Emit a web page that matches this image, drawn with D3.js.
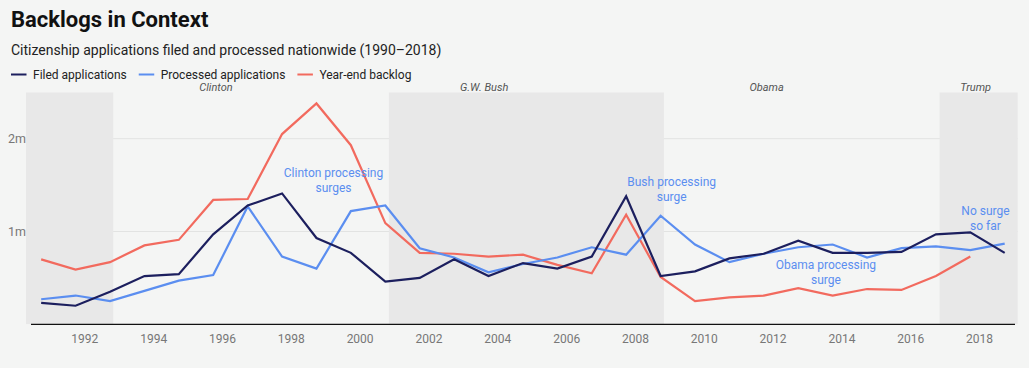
<!DOCTYPE html>
<html>
<head>
<meta charset="utf-8">
<script src="https://cdn.jsdelivr.net/npm/d3@7"></script>
<style>
  html, body { margin: 0; padding: 0; background: #f4f5f4; }
  svg { display: block; font-family: Roboto, "Noto Sans", sans-serif; }
</style>
</head>
<body>
<svg id="chart" width="1029" height="368"></svg>
<script>
// ---- data (fiscal years) ----
const years = [1990,1991,1992,1993,1994,1995,1996,1997,1998,1999,2000,2001,2002,2003,2004,2005,2006,2007,2008,2009,2010,2011,2012,2013,2014,2015,2016,2017,2018];
const filed = [0.23,0.20,0.35,0.52,0.54,0.97,1.28,1.41,0.93,0.77,0.46,0.50,0.70,0.52,0.66,0.60,0.73,1.38,0.52,0.57,0.71,0.76,0.90,0.77,0.77,0.78,0.97,0.99,0.77];
const processed = [0.27,0.31,0.25,0.36,0.47,0.53,1.27,0.73,0.60,1.22,1.28,0.82,0.72,0.56,0.65,0.72,0.83,0.75,1.17,0.86,0.67,0.76,0.83,0.86,0.72,0.82,0.84,0.80,0.87];
const backlog = [0.70,0.59,0.67,0.85,0.91,1.34,1.35,2.05,2.38,1.93,1.09,0.77,0.76,0.73,0.75,0.64,0.55,1.18,0.51,0.25,0.29,0.31,0.39,0.31,0.38,0.37,0.52,0.73];
const seriesNames = ["Filed applications","Processed applications","Year-end backlog"];
const yTicks = [1, 2];
const yTickLabels = ["1m", "2m"];
const xTickYears = [1992,1994,1996,1998,2000,2002,2004,2006,2008,2010,2012,2014,2016,2018];
// presidential terms (shaded = Republican), starting at election day
const terms = [
  {name: "", start: "1988-11-08", end: "1992-11-03", shaded: true, labelAt: null},
  {name: "Clinton", start: "1992-11-03", end: "2000-11-07", shaded: false, labelAt: "1995-10-30"},
  {name: "G.W. Bush", start: "2000-11-07", end: "2008-11-04", shaded: true, labelAt: "2003-08-15"},
  {name: "Obama", start: "2008-11-04", end: "2016-11-08", shaded: false, labelAt: "2011-10-30"},
  {name: "Trump", start: "2016-11-08", end: "2020-11-03", shaded: true, labelAt: "2017-11-25"}
];
const annotations = [
  {lines: ["Clinton processing", "surges"], date: "1999-03-30", value: 1.585},
  {lines: ["Bush processing", "surge"], date: "2009-01-25", value: 1.485},
  {lines: ["Obama processing", "surge"], date: "2013-07-20", value: 0.595},
  {lines: ["No surge", "so far"], date: "2018-03-10", value: 1.175}
];

// ---- layout ----
const colors = {filed: "#1c1f5e", processed: "#5b8ef0", backlog: "#f26a5e"};
const svg = d3.select("#chart");
const plot = {left: 26, right: 1017.7, top: 92.3, bottom: 324.3};

const parse = d3.timeParse("%Y-%m-%d");
const fyDate = y => new Date(y, 8, 30);

const x = d3.scaleTime()
  .domain([new Date(1990, 3, 22), new Date(2019, 1, 15)])
  .range([plot.left, plot.right]);
const y = d3.scaleLinear().domain([0, 2.5]).range([plot.bottom, plot.top]);

// title
svg.append("text").attr("x", 11).attr("y", 27)
  .attr("font-size", 22).attr("font-weight", 700).attr("fill", "#111")
  .text("Backlogs in Context");
svg.append("text").attr("x", 11).attr("y", 55)
  .attr("font-size", 14).attr("fill", "#222")
  .text("Citizenship applications filed and processed nationwide (1990\u20132018)");

// legend
const legendColors = [colors.filed, colors.processed, colors.backlog];
let lx = 11;
seriesNames.forEach((name, i) => {
  const g = svg.append("g").attr("transform", `translate(${lx},74.5)`);
  g.append("line").attr("x1", 0).attr("x2", 15.5).attr("y1", 0).attr("y2", 0)
    .attr("stroke", legendColors[i]).attr("stroke-width", 2);
  const t = g.append("text").attr("x", 22).attr("y", 4.5)
    .attr("font-size", 12).attr("fill", "#222").text(name);
  lx += 22 + t.node().getComputedTextLength() + 12;
});

// clip
svg.append("defs").append("clipPath").attr("id", "plotclip")
  .append("rect").attr("x", plot.left).attr("y", plot.top)
  .attr("width", plot.right - plot.left).attr("height", plot.bottom - plot.top);

// gridlines
svg.append("g").selectAll("line").data(yTicks).join("line")
  .attr("x1", plot.left).attr("x2", plot.right)
  .attr("y1", d => y(d)).attr("y2", d => y(d))
  .attr("stroke", "#e2e3e2").attr("stroke-width", 1);

// bands
svg.append("g").attr("clip-path", "url(#plotclip)")
  .selectAll("rect").data(terms.filter(d => d.shaded)).join("rect")
  .attr("x", d => x(parse(d.start)))
  .attr("width", d => x(parse(d.end)) - x(parse(d.start)))
  .attr("y", plot.top).attr("height", plot.bottom - plot.top)
  .attr("fill", "#e8e8e8");

// president labels
svg.append("g").selectAll("text").data(terms.filter(d => d.labelAt)).join("text")
  .attr("x", d => x(parse(d.labelAt))).attr("y", 91)
  .attr("text-anchor", "middle").attr("font-size", 11).attr("font-style", "italic")
  .attr("fill", "#555").text(d => d.name);

// y labels
svg.append("g").selectAll("text").data(yTicks).join("text")
  .attr("x", 26).attr("y", d => y(d) + 4.5)
  .attr("text-anchor", "end").attr("font-size", 12.5).attr("fill", "#777")
  .text((d, i) => yTickLabels[i]);

// x axis
const xAxis = d3.axisBottom(x)
  .tickValues(xTickYears.map(yr => new Date(yr, 0, 1)))
  .tickFormat(d3.timeFormat("%Y"))
  .tickSize(0).tickPadding(10);
const gx = svg.append("g").attr("transform", `translate(0,${plot.bottom})`).call(xAxis);
gx.select(".domain").remove();
gx.selectAll("text").attr("font-size", 12).attr("fill", "#777")
  .attr("font-family", "Roboto, sans-serif");
svg.append("line").attr("x1", plot.left + 5).attr("x2", plot.right - 2.7)
  .attr("y1", plot.bottom).attr("y2", plot.bottom)
  .attr("stroke", "#111").attr("stroke-width", 1.3);

// lines
const line = d3.line().x(d => x(fyDate(d[0]))).y(d => y(d[1]));
const seriesData = [
  {vals: filed, color: colors.filed},
  {vals: processed, color: colors.processed},
  {vals: backlog, color: colors.backlog}
];
[2, 1, 0].forEach(i => {
  const s = seriesData[i];
  svg.append("path")
    .datum(s.vals.map((v, j) => [years[j], v]))
    .attr("d", line).attr("fill", "none")
    .attr("stroke", s.color).attr("stroke-width", 2.2)
    .attr("stroke-linejoin", "miter");
});

// annotations
annotations.forEach(a => {
  const t = svg.append("text")
    .attr("x", x(parse(a.date))).attr("y", y(a.value))
    .attr("text-anchor", "middle").attr("font-size", 12).attr("fill", colors.processed);
  a.lines.forEach((l, i) => {
    t.append("tspan").attr("x", x(parse(a.date))).attr("dy", i === 0 ? 0 : 14.5).text(l);
  });
});
</script>
</body>
</html>
